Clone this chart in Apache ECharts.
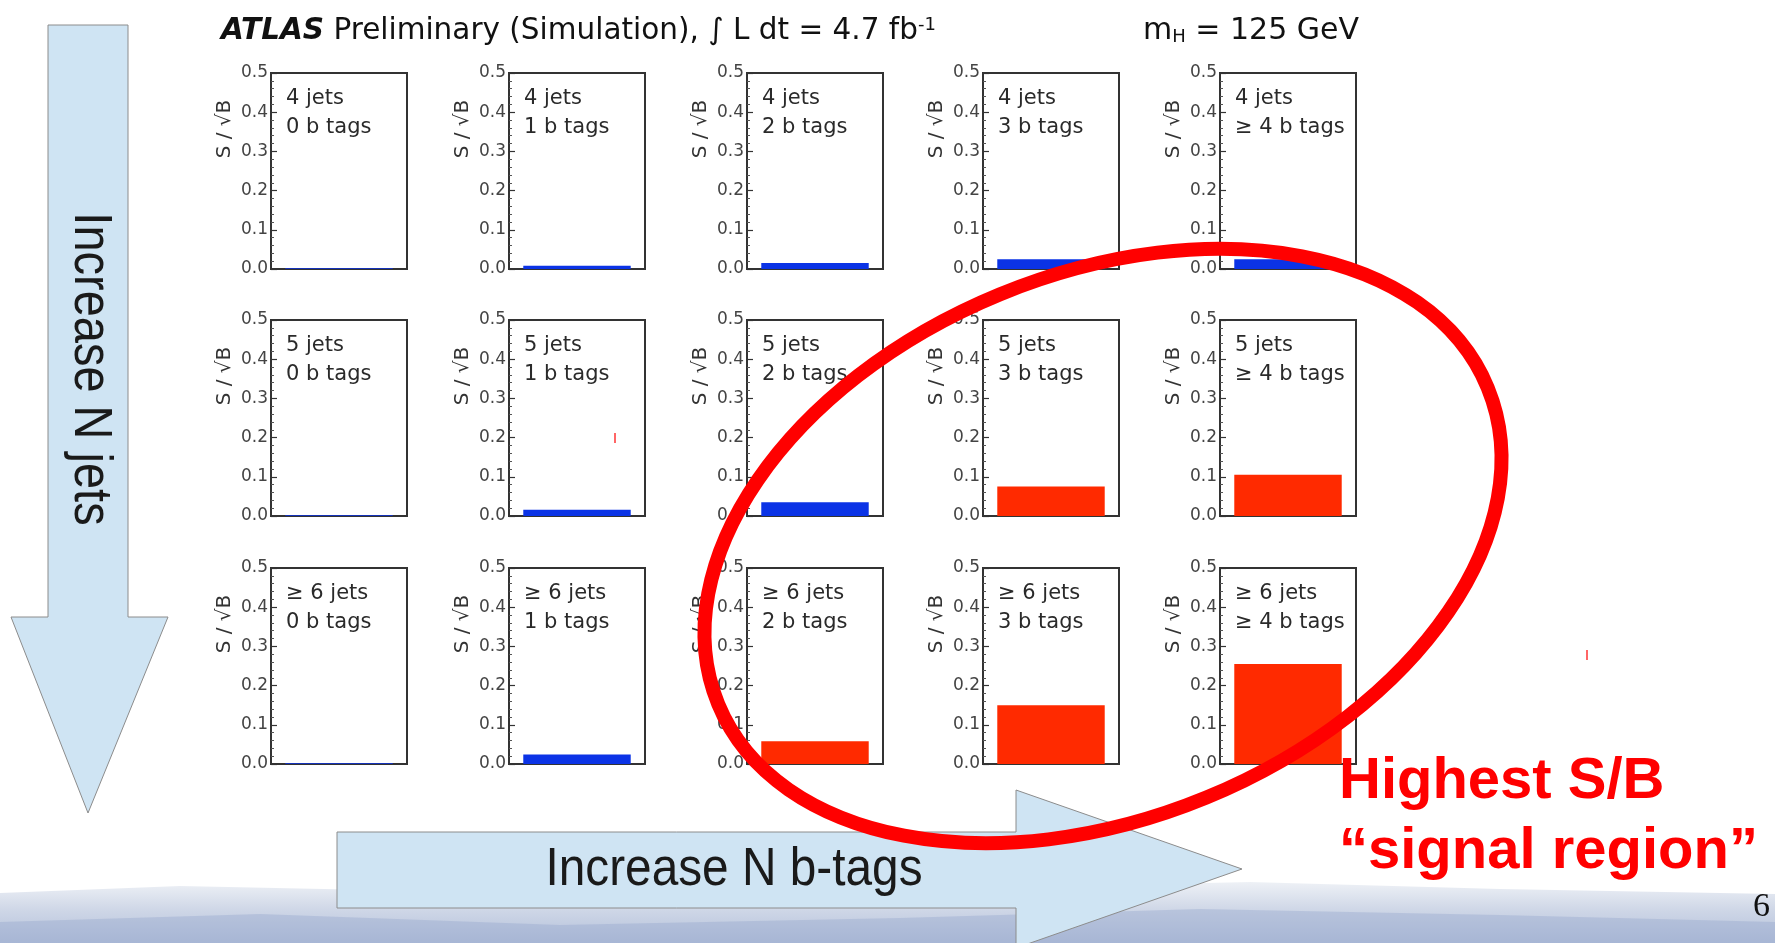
<!DOCTYPE html>
<html>
<head>
<meta charset="utf-8">
<script src="https://cdn.jsdelivr.net/npm/echarts@6.0.0/dist/echarts.min.js"></script>
<style>
html,body{margin:0;padding:0;background:#fff;}
#chart{width:1775px;height:943px;}
</style>
</head>
<body>
<div id="chart"></div>
<script>
// ---------------- data ----------------
const jetLabels = ['4 jets', '5 jets', '\u2265 6 jets'];
const tagLabels = ['0 b tags', '1 b tags', '2 b tags', '3 b tags', '\u2265 4 b tags'];
const sOverSqrtB_4jets = [0.002, 0.008, 0.015, 0.025, 0.025];
const sOverSqrtB_5jets = [0.002, 0.016, 0.035, 0.075, 0.105];
const sOverSqrtB_6jets = [0.002, 0.024, 0.058, 0.150, 0.255];
const yTickValues = [0.0, 0.1, 0.2, 0.3, 0.4, 0.5];
const signalThreshold = 0.05; // bars above this are the "signal region" (red)

// ---------------- layout ----------------
const rows = [sOverSqrtB_4jets, sOverSqrtB_5jets, sOverSqrtB_6jets];
const colLefts = [271, 509, 747, 983, 1220];
const rowTops = [73, 320, 568];
const panelW = 136, panelH = 196;
const FONT = 'DejaVu Sans';
const BLUE = '#0b33e6', RED = '#ff2a00';

const grids = [], xAxes = [], yAxes = [], series = [], graphics = [];

// background watercolor band
graphics.push({
  type: 'polygon', z: 1, silent: true,
  shape: { points: [[0,893],[180,886],[420,891],[700,898],[980,888],[1250,882],[1500,889],[1775,894],[1775,943],[0,943]] },
  style: { fill: new echarts.graphic.LinearGradient(0,0,0,1,[{offset:0,color:'#eef1f6'},{offset:0.45,color:'#cfd7e7'},{offset:1,color:'#b3c0da'}]) }
});
graphics.push({
  type: 'polygon', z: 1, silent: true,
  shape: { points: [[0,922],[260,914],[560,925],[900,918],[1200,909],[1500,915],[1775,922],[1775,943],[0,943]] },
  style: { fill: 'rgba(150,167,205,0.40)' }
});

rows.forEach((vals, r) => {
  vals.forEach((v, c) => {
    const i = r * 5 + c;
    const left = colLefts[c], top = rowTops[r];
    grids.push({ left: left, top: top, width: panelW, height: panelH, show: true,
      borderColor: '#333', borderWidth: 2, backgroundColor: '#fff' });
    xAxes.push({ type: 'category', gridIndex: i, data: [tagLabels[c]], show: false });
    yAxes.push({ type: 'value', gridIndex: i, min: yTickValues[0], max: yTickValues[yTickValues.length-1],
      interval: 0.1,
      axisLine: { show: true, lineStyle: { color: '#333', width: 2 } },
      axisTick: { show: true, inside: true, length: 6, lineStyle: { color: '#333', width: 1.2 } },
      minorTick: { show: true, splitNumber: 5, length: 3, lineStyle: { color: '#555', width: 1 } },
      splitLine: { show: false },
      axisLabel: { margin: 3, color: '#444', fontFamily: FONT, fontSize: 17,
        formatter: (x) => x.toFixed(1) }
    });
    series.push({ type: 'bar', xAxisIndex: i, yAxisIndex: i, barWidth: '79%', z: 3,
      data: [v], itemStyle: { color: v > signalThreshold ? RED : BLUE } });

    graphics.push({ type: 'text', z: 10, x: left + 15, y: top + 26,
      style: { text: jetLabels[r], fontFamily: FONT, fontSize: 21, fill: '#2a2a2a', verticalAlign: 'middle' } });
    graphics.push({ type: 'text', z: 10, x: left + 15, y: top + 55,
      style: { text: tagLabels[c], fontFamily: FONT, fontSize: 21, fill: '#2a2a2a', verticalAlign: 'middle' } });
    graphics.push({ type: 'text', z: 10, x: left - 46, y: top + 56, rotation: Math.PI / 2,
      style: { text: 'S / \u221aB', fontFamily: FONT, fontSize: 20, fill: '#333', align: 'center', verticalAlign: 'middle' } });
  });
});

// title
graphics.push({ type: 'text', z: 10, x: 221, y: 31,
  style: { text: '{b|ATLAS}{n| Preliminary (Simulation), \u222b L dt = 4.7 fb}{s|-1}',
    verticalAlign: 'middle',
    rich: {
      b: { fontFamily: FONT, fontSize: 29.5, fontWeight: 'bold', fontStyle: 'italic', fill: '#111' },
      n: { fontFamily: FONT, fontSize: 29.5, fill: '#111' },
      s: { fontFamily: FONT, fontSize: 18, fill: '#111', verticalAlign: 'top' }
    } } });
graphics.push({ type: 'text', z: 10, x: 1143, y: 31,
  style: { text: '{n|m}{s|H}{n| = 125 GeV}', verticalAlign: 'middle',
    rich: {
      n: { fontFamily: FONT, fontSize: 30, fill: '#111' },
      s: { fontFamily: FONT, fontSize: 18, fill: '#111', verticalAlign: 'bottom' }
    } } });

// arrows
const ARROW_FILL = '#cfe4f3', ARROW_STROKE = '#8c8c8c';
const NARROW = "'Liberation Sans', Arial, sans-serif";
graphics.push({ type: 'polygon', z: 5,
  shape: { points: [[48,25],[128,25],[128,617],[168,617],[88,813],[11,617],[48,617]] },
  style: { fill: ARROW_FILL, stroke: ARROW_STROKE, lineWidth: 1 } });
graphics.push({ type: 'text', z: 6, x: 90, y: 369, rotation: -Math.PI / 2, scaleX: 0.87,
  style: { text: 'Increase N jets', fontFamily: NARROW,
    fontSize: 54, fill: '#1a1a1a', align: 'center', verticalAlign: 'middle' } });
graphics.push({ type: 'polygon', z: 5,
  shape: { points: [[337,832],[1016,832],[1016,790],[1242,869],[1016,948],[1016,908],[337,908]] },
  style: { fill: ARROW_FILL, stroke: ARROW_STROKE, lineWidth: 1 } });
graphics.push({ type: 'text', z: 6, x: 734, y: 870, scaleX: 0.885,
  style: { text: 'Increase N b-tags', fontFamily: NARROW,
    fontSize: 54, fill: '#1a1a1a', align: 'center', verticalAlign: 'middle' } });

// red annotation ellipse
graphics.push({ type: 'ellipse', z: 50, x: 1103, y: 546, rotation: 0.39,
  shape: { cx: 0, cy: 0, rx: 416, ry: 272 },
  style: { fill: 'none', stroke: '#ff0000', lineWidth: 14 } });

// signal region text
graphics.push({ type: 'text', z: 60, x: 1339, y: 782,
  style: { text: 'Highest S/B', fontFamily: "'Liberation Sans', Arial, sans-serif", fontWeight: 'bold',
    fontSize: 58, fill: '#ff0000', verticalAlign: 'middle' } });
graphics.push({ type: 'text', z: 60, x: 1339, y: 852,
  style: { text: '\u201csignal region\u201d', fontFamily: "'Liberation Sans', Arial, sans-serif", fontWeight: 'bold',
    fontSize: 58, fill: '#ff0000', verticalAlign: 'middle' } });

// small stray marks & page number
graphics.push({ type: 'line', z: 10, shape: { x1: 615, y1: 433, x2: 615, y2: 443 }, style: { stroke: '#ff3333', lineWidth: 1.5 } });
graphics.push({ type: 'line', z: 10, shape: { x1: 1587, y1: 650, x2: 1587, y2: 660 }, style: { stroke: '#ff3333', lineWidth: 1.5 } });
graphics.push({ type: 'text', z: 10, x: 1753, y: 907,
  style: { text: '6', fontFamily: "'Liberation Serif', 'DejaVu Serif', serif", fontSize: 34, fill: '#111', verticalAlign: 'middle' } });

const chart = echarts.init(document.getElementById('chart'), null, { renderer: 'canvas' });
chart.setOption({
  animation: false,
  backgroundColor: '#ffffff',
  grid: grids,
  xAxis: xAxes,
  yAxis: yAxes,
  series: series,
  graphic: { elements: graphics }
});
</script>
</body>
</html>
